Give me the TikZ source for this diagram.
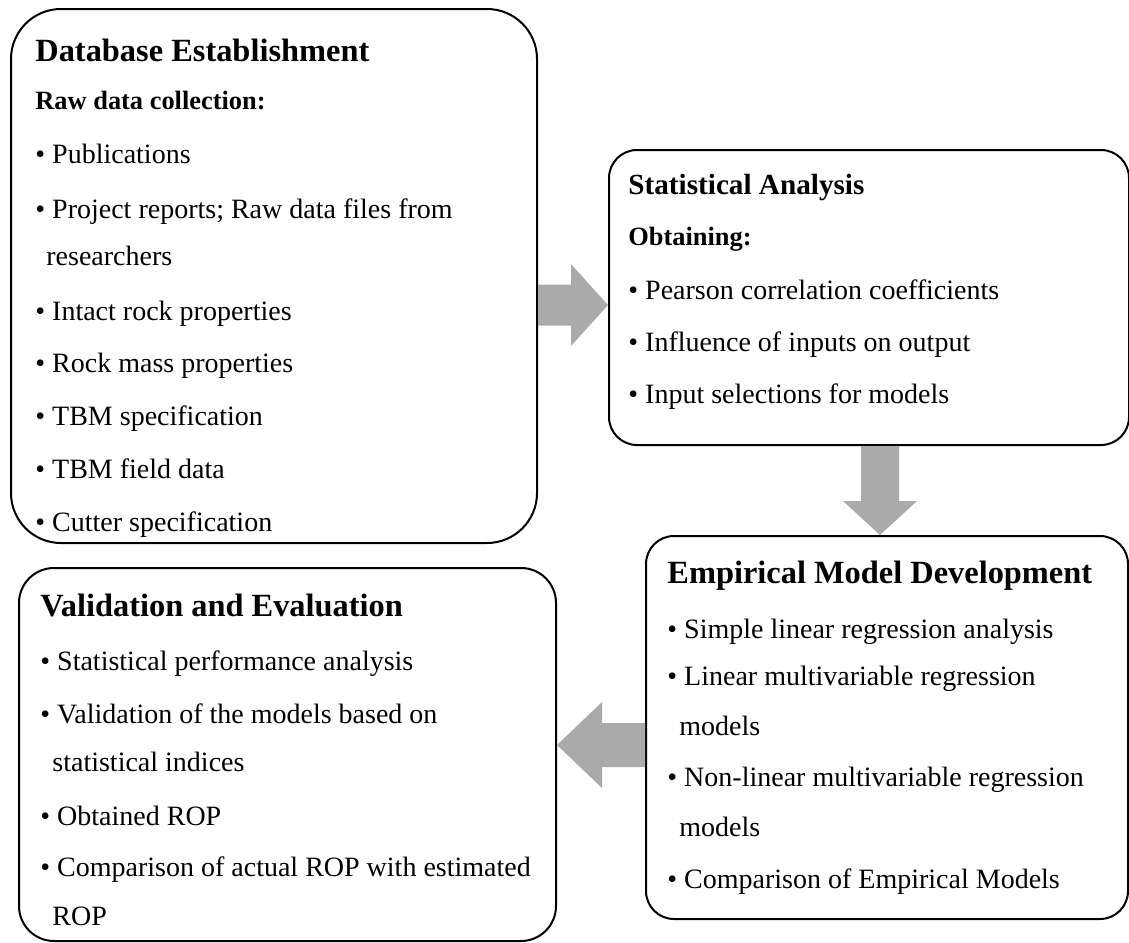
\documentclass[tikz,border=0pt]{standalone}
\usepackage{fontspec}
\setmainfont{Liberation Serif}
\usetikzlibrary{calc}
\definecolor{arrowgray}{RGB}{170,170,170}
\tikzset{
  box/.style={draw=black,line width=1pt,anchor=north west,inner sep=0pt},
  head/.style={font=\fontsize{16.2}{19}\selectfont\bfseries,anchor=base west,inner sep=0pt},
  subhead/.style={font=\fontsize{13.2}{16}\selectfont\bfseries,anchor=base west,inner sep=0pt},
  item/.style={font=\fontsize{14}{17}\selectfont,anchor=base west,inner sep=0pt}
}
\begin{document}
\begin{tikzpicture}[x=0.5pt,y=-0.5pt,line join=round]
	\useasboundingbox (0,0) rectangle (1129,942);
	% the four stages
	\node[box,rounded corners=25pt,minimum width=263pt,minimum height=267pt] (dbase) at (10,8) {};
	\node[box,rounded corners=14pt,minimum width=260pt,minimum height=147.5pt] (stat) at (608,149) {};
	\node[box,rounded corners=14pt,minimum width=241pt,minimum height=191.5pt] (emp) at (645,535) {};
	\node[box,rounded corners=17.5pt,minimum width=268.5pt,minimum height=186.5pt] (valid) at (18,567) {};
	% texts
	\node[head] (dbase-t) at (35,61) {Database Establishment};
	\node[subhead] (dbase-s) at (35,109) {Raw data collection:};
	\foreach \x/\y/\t [count=\i] in {35/163/{• Publications},
			35/218/{• Project reports; Raw data files from},
			46/265/{researchers},
			35/320/{• Intact rock properties},
			35/372/{• Rock mass properties},
			35/425/{• TBM specification},
			35/478/{• TBM field data},
			35/531/{• Cutter specification}}
		\node[item] (dbase-\i) at (\x,\y) {\t};
	\node[head,font=\fontsize{14.6}{18}\selectfont\bfseries] (stat-t) at (628,194) {Statistical Analysis};
	\node[subhead] (stat-s) at (628,245) {Obtaining:};
	\foreach \y/\t [count=\i] in {299/{• Pearson correlation coefficients},
			351/{• Influence of inputs on output},
			403/{• Input selections for models}}
		\node[item] (stat-\i) at (628,\y) {\t};
	\node[head] (emp-t) at (667,583) {Empirical Model Development};
	\foreach \x/\y/\t [count=\i] in {667/638/{• Simple linear regression analysis},
			667/685/{• Linear multivariable regression},
			679/735/{models},
			667/786/{• Non-linear multivariable regression},
			679/836/{models},
			667/888/{• Comparison of Empirical Models}}
		\node[item] (emp-\i) at (\x,\y) {\t};
	\node[head] (valid-t) at (40,616) {Validation and Evaluation};
	\foreach \x/\y/\t [count=\i] in {40/670/{• Statistical performance analysis},
			40/723/{• Validation of the models based on},
			52/771/{statistical indices},
			40/825/{• Obtained ROP},
			40/876/{• Comparison of actual ROP with estimated},
			52/925/{ROP}}
		\node[item] (valid-\i) at (\x,\y) {\t};
	% block arrows between the stages
	\coordinate (a0) at (dbase.east |- 0,305);
	\coordinate (a1) at (stat.west |- 0,305);
	\fill[arrowgray] ($(a0)+(0,-20.5)$) -- ($(a1)+(-37,-20.5)$) -- ($(a1)+(-37,-41)$) -- (a1)
		-- ($(a1)+(-37,41)$) -- ($(a1)+(-37,20.5)$) -- ($(a0)+(0,20.5)$) -- cycle;
	\coordinate (b0) at (stat.south -| 880,0);
	\coordinate (b1) at (emp.north -| 880,0);
	\fill[arrowgray] ($(b0)+(-19,0)$) -- ($(b1)+(-19,-34)$) -- ($(b1)+(-37,-34)$) -- (b1)
		-- ($(b1)+(37,-34)$) -- ($(b1)+(19,-34)$) -- ($(b0)+(19,0)$) -- cycle;
	\coordinate (c0) at (emp.west |- 0,745);
	\coordinate (c1) at (valid.east |- 0,745);
	\fill[arrowgray] ($(c0)+(0,-22)$) -- ($(c1)+(45,-22)$) -- ($(c1)+(45,-43)$) -- (c1)
		-- ($(c1)+(45,43)$) -- ($(c1)+(45,22)$) -- ($(c0)+(0,22)$) -- cycle;
\end{tikzpicture}
\end{document}
